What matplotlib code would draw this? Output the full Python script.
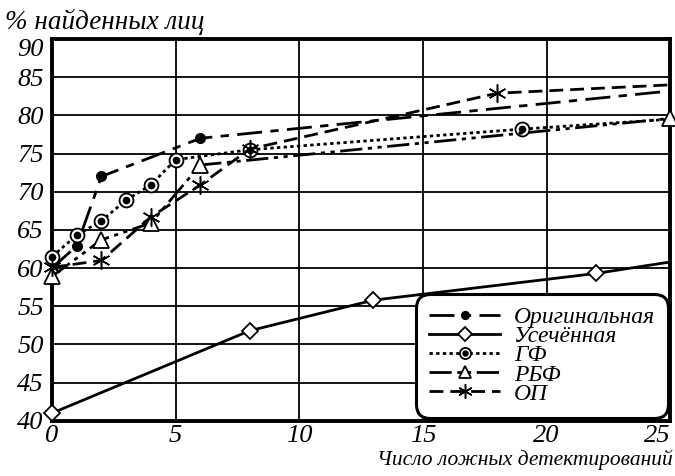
import matplotlib
matplotlib.use('Agg')
import matplotlib.pyplot as plt
from matplotlib.legend_handler import HandlerTuple

plt.rcParams['font.family'] = 'Liberation Serif'
plt.rcParams['font.style'] = 'italic'

# Данные
orig_x = [0, 1, 2, 6, 25]
orig_y = [60, 62.9, 72.0, 77.0, 83.2]

trunc_x = [0, 8, 13, 22, 25]
trunc_y = [41.0, 51.8, 55.8, 59.3, 60.8]

gf_x = [0, 1, 2, 3, 4, 5, 8, 19, 25]
gf_y = [61.5, 64.3, 66.2, 68.9, 70.9, 74.2, 75.5, 78.2, 79.5]

rbf_x = [0, 2, 4, 6, 25]
rbf_y = [58.9, 63.7, 65.9, 73.5, 79.6]

op_x = [0, 2, 4, 6, 8, 18, 25]
op_y = [60.1, 61.0, 66.7, 70.9, 75.6, 82.9, 84.0]

labels = ['Оригинальная', 'Усечённая', 'ГФ', 'РБФ', 'ОП']


def main():
    fig = plt.figure(figsize=(6.75, 4.76), dpi=100)
    ax = fig.add_axes([0.077, 0.116, 0.916, 0.802])

    lw = 2.0
    # маркеры только в измеренных точках (последняя точка - конец линии)
    h_orig, = ax.plot(orig_x, orig_y, color='black', lw=lw,
                      linestyle=(0, (9, 3, 3, 3)), marker='o', ms=7,
                      mfc='black', markevery=[1, 2, 3],
                      clip_on=False, zorder=5)
    h_trunc, = ax.plot(trunc_x, trunc_y, color='black', lw=lw,
                       linestyle='-', marker='D', ms=8.5, mfc='white',
                       mec='black', mew=1.3, markevery=[0, 1, 2, 3],
                       clip_on=False, zorder=5)
    h_gf, = ax.plot(gf_x, gf_y, color='black', lw=lw,
                    linestyle=(0, (1.2, 1.2)), marker='o', ms=10,
                    mfc='white', mec='black', mew=1.3,
                    markevery=list(range(8)), clip_on=False, zorder=5)
    h_gf2, = ax.plot(gf_x[:-1], gf_y[:-1], color='black', lw=0, marker='o',
                     ms=4.5, mfc='black', mec='black', clip_on=False, zorder=6)
    h_rbf, = ax.plot(rbf_x, rbf_y, color='black', lw=lw,
                     linestyle=(0, (8, 2, 1.5, 2, 1.5, 2)), marker='^', ms=11,
                     mfc='white', mec='black', mew=1.3, clip_on=False, zorder=5)
    h_op, = ax.plot(op_x, op_y, color='black', lw=lw,
                    linestyle=(0, (5, 2.5)), marker=(6, 2, 0), ms=13,
                    mec='black', mew=1.1, markevery=list(range(6)),
                    clip_on=False, zorder=7)

    ax.set_xlim(0, 25)
    ax.set_ylim(40, 90)
    ax.set_xticks(range(0, 26, 5))
    ax.set_yticks(range(40, 91, 5))
    ax.grid(True, color='black', lw=1.3)
    ax.set_axisbelow(True)
    for s in ax.spines.values():
        s.set_linewidth(2.8)
    ax.tick_params(length=0, labelsize=19)
    ax.tick_params(axis='y', pad=6)
    ax.tick_params(axis='x', pad=3)
    ax.get_xticklabels()[-1].set_ha('right')
    ax.get_yticklabels()[-1].set_va('top')

    fig.text(0.008, 0.939, '% найденных лиц', fontsize=19.5, ha='left',
             va='baseline')
    fig.text(0.996, 0.012, 'Число ложных детектирований', fontsize=15.5,
             ha='right', va='bottom')

    leg = ax.legend([h_orig, h_trunc, (h_gf, h_gf2), h_rbf, h_op], labels,
                    handler_map={tuple: HandlerTuple(ndivide=1, pad=0)},
                    loc='lower right', bbox_to_anchor=(0.997, 0.008),
                    borderaxespad=0, fontsize=17, handlelength=3.0,
                    labelspacing=-0.1, borderpad=0.55, handletextpad=0.6,
                    markerscale=0.8, fancybox=True, framealpha=1,
                    edgecolor='black')
    leg.get_frame().set_linewidth(2.2)
    leg.get_frame().set_boxstyle('round', pad=0.0, rounding_size=0.6)

    fig.savefig('out.png', dpi=100)


if __name__ == "__main__":
    main()
